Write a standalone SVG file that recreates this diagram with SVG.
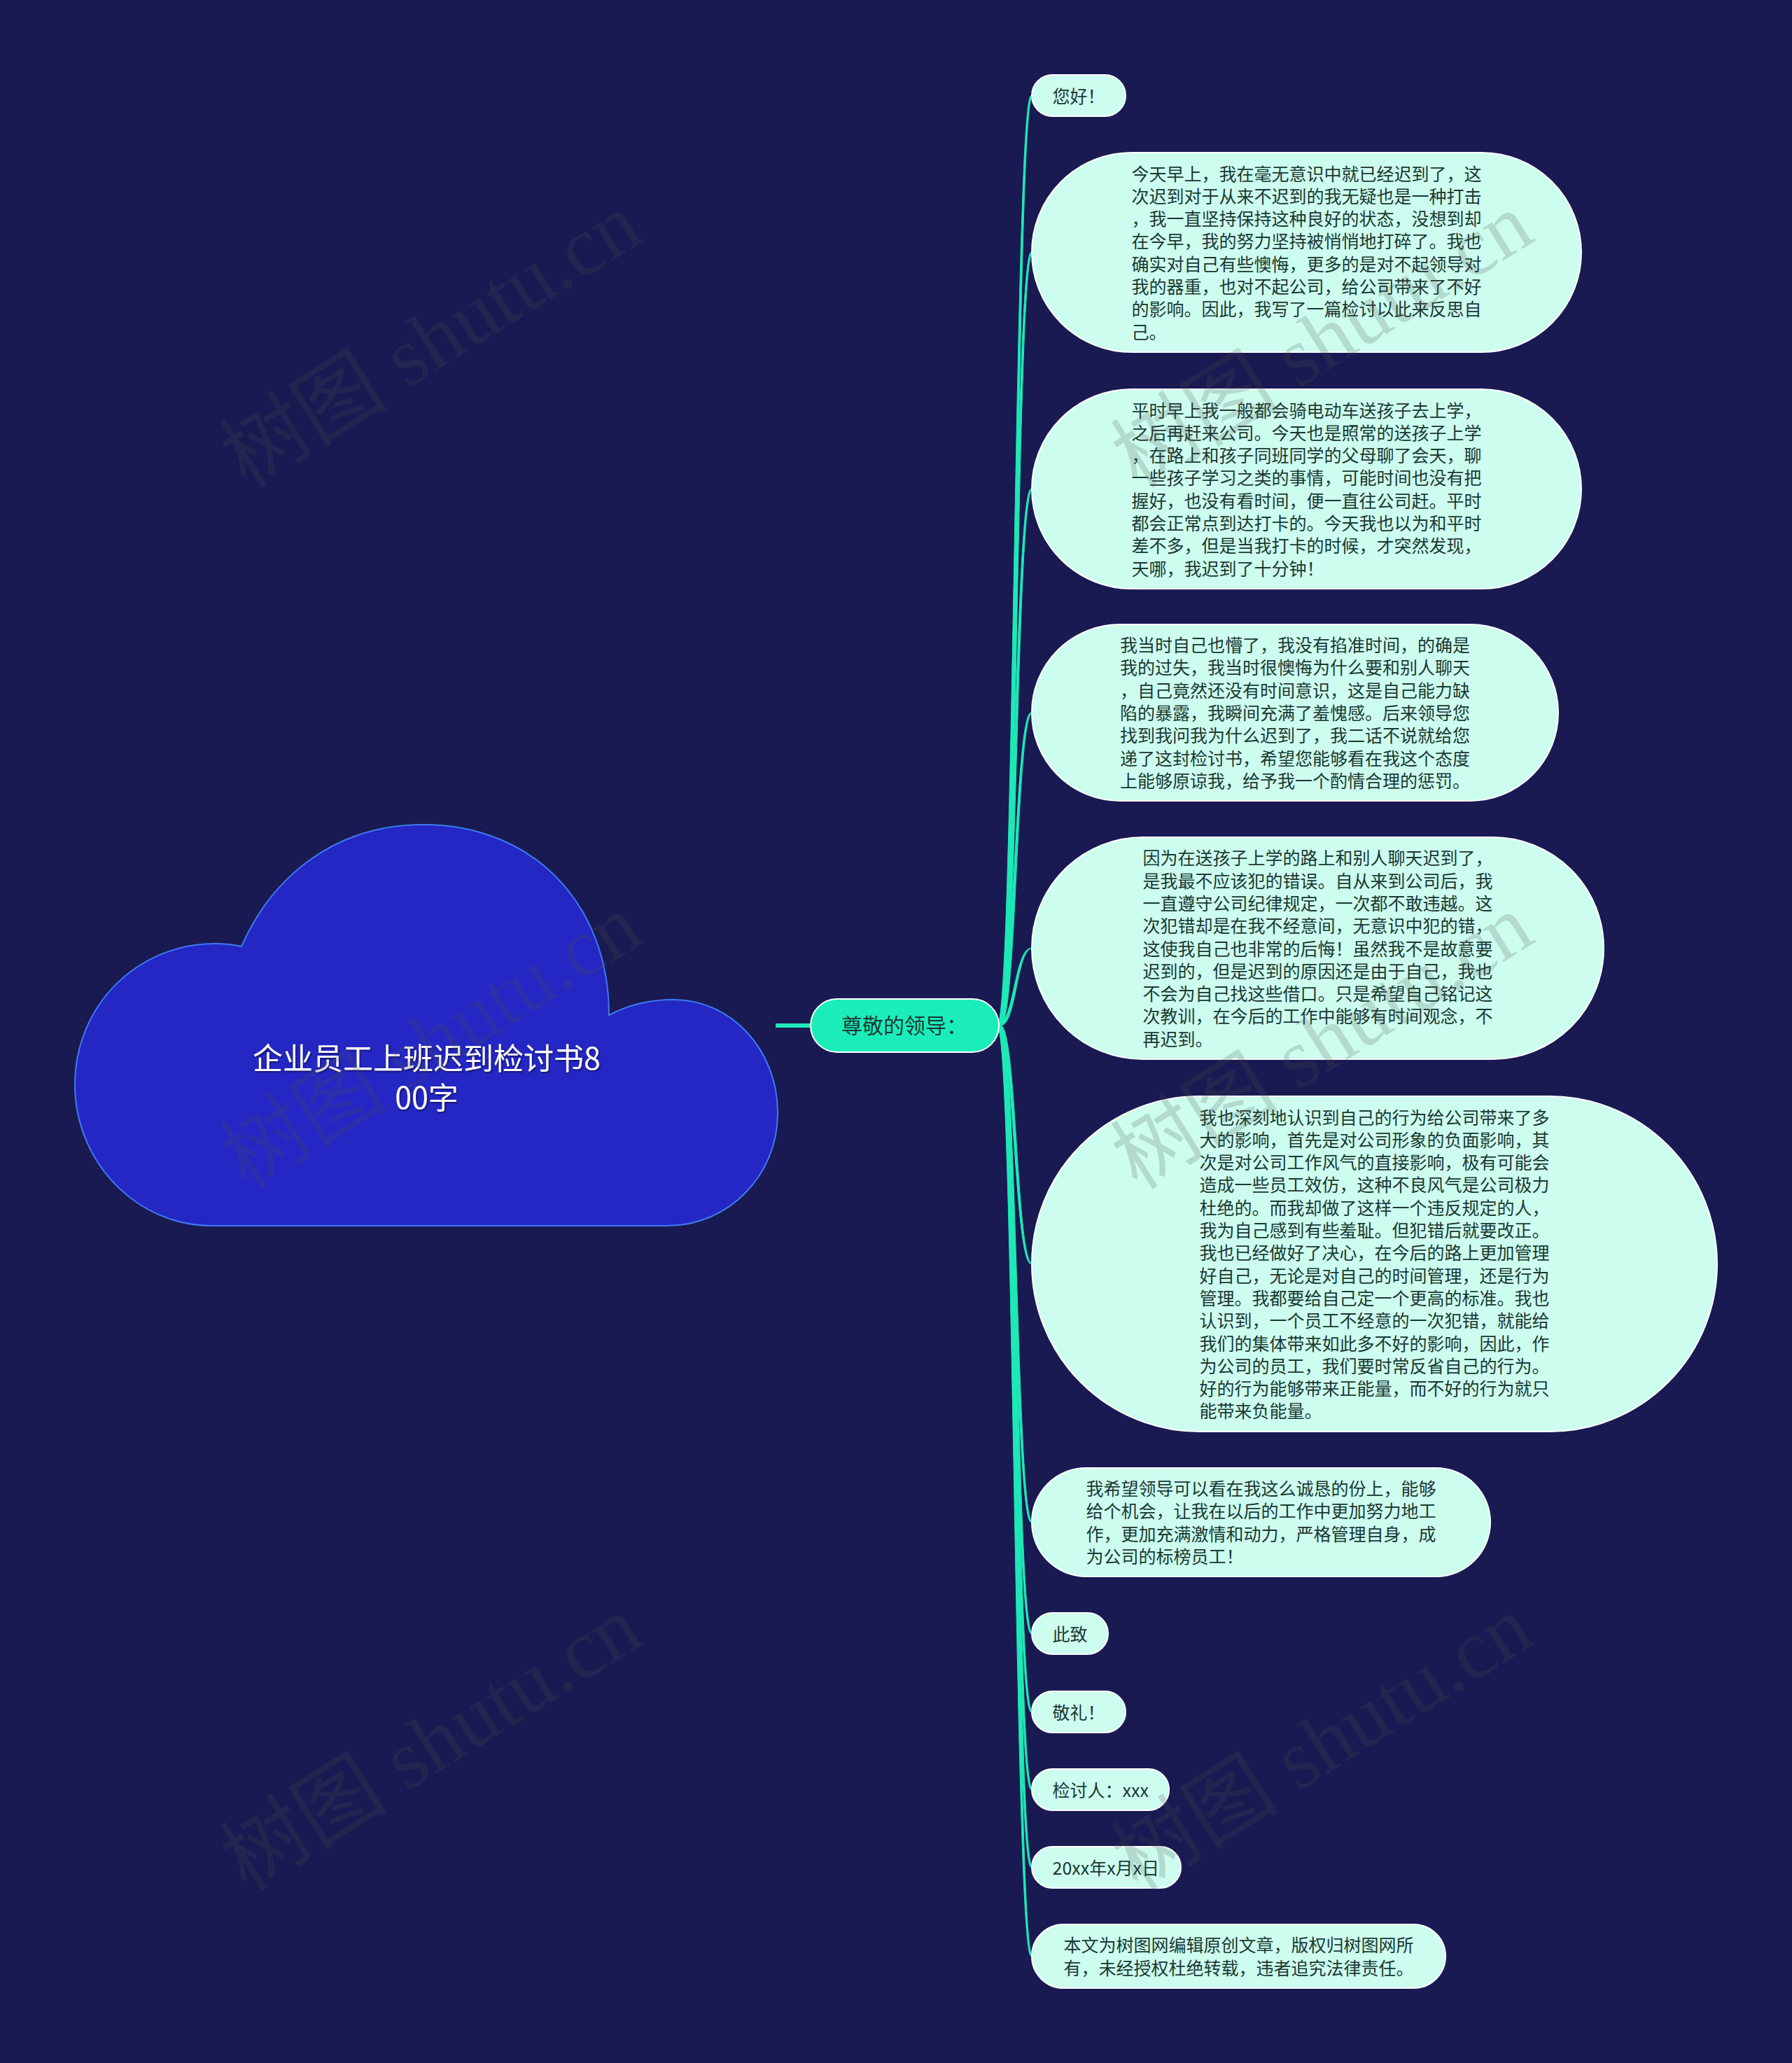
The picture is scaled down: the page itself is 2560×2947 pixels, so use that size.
<svg xmlns="http://www.w3.org/2000/svg" width="2560" height="2947" viewBox="0 0 2560 2947">
<defs>
<style>
.leaf{fill:#ccfdef;stroke:#ffffff;stroke-width:2}
.lt{font-family:"Noto Sans CJK SC","Noto Sans",sans-serif;font-size:25px;fill:#1b3832}
.con{fill:#1de9b6;stroke:#1de9b6;stroke-width:1;stroke-linejoin:round}
.wm{font-family:"Liberation Serif","Noto Sans CJK SC",serif;font-size:120px;fill:#505050;fill-opacity:0.2}
</style>
<filter id="sh" x="-10%" y="-20%" width="120%" height="140%">
<feDropShadow dx="1.5" dy="2" stdDeviation="1" flood-color="#000000" flood-opacity="0.45"/>
</filter>
</defs>
<rect x="0" y="0" width="2560" height="2947" fill="#191a52"/>

<g id="connectors">
<line x1="1108" y1="1465" x2="1162" y2="1465" stroke="#1de9b6" stroke-width="6"/>
<path class="con" d="M1424.5 1465 C1448.5 1465 1449 136.5 1473 136.5 L1475 136.5 C1452 136.5 1452.5 1465 1429.5 1465 Z"/>
<path class="con" d="M1424.5 1465 C1448.5 1465 1449 360.5 1473 360.5 L1475 360.5 C1452 360.5 1452.5 1465 1429.5 1465 Z"/>
<path class="con" d="M1424.5 1465 C1448.5 1465 1449 698.5 1473 698.5 L1475 698.5 C1452 698.5 1452.5 1465 1429.5 1465 Z"/>
<path class="con" d="M1424.5 1465 C1448.5 1465 1449 1018 1473 1018 L1475 1018 C1452 1018 1452.5 1465 1429.5 1465 Z"/>
<path class="con" d="M1424.5 1465 C1448.5 1465 1449 1354.5 1473 1354.5 L1475 1354.5 C1452 1354.5 1452.5 1465 1429.5 1465 Z"/>
<path class="con" d="M1424.5 1465 C1448.5 1465 1449 1805.5 1473 1805.5 L1475 1805.5 C1452 1805.5 1452.5 1465 1429.5 1465 Z"/>
<path class="con" d="M1424.5 1465 C1448.5 1465 1449 2174.5 1473 2174.5 L1475 2174.5 C1452 2174.5 1452.5 1465 1429.5 1465 Z"/>
<path class="con" d="M1424.5 1465 C1448.5 1465 1449 2333.5 1473 2333.5 L1475 2333.5 C1452 2333.5 1452.5 1465 1429.5 1465 Z"/>
<path class="con" d="M1424.5 1465 C1448.5 1465 1449 2445.5 1473 2445.5 L1475 2445.5 C1452 2445.5 1452.5 1465 1429.5 1465 Z"/>
<path class="con" d="M1424.5 1465 C1448.5 1465 1449 2556.5 1473 2556.5 L1475 2556.5 C1452 2556.5 1452.5 1465 1429.5 1465 Z"/>
<path class="con" d="M1424.5 1465 C1448.5 1465 1449 2667.5 1473 2667.5 L1475 2667.5 C1452 2667.5 1452.5 1465 1429.5 1465 Z"/>
<path class="con" d="M1424.5 1465 C1448.5 1465 1449 2794.5 1473 2794.5 L1475 2794.5 C1452 2794.5 1452.5 1465 1429.5 1465 Z"/>
</g>

<g id="root">
<path d="M303 1751 L953 1751 C1040 1751 1111 1680 1111 1590 C1111 1500 1045 1428 962 1428 C925 1428 893 1438 870 1450 C870 1290 760 1178 605 1178 C480 1178 390 1250 345 1352 C332 1349 320 1348 307 1348 C195 1348 107 1438 107 1549 C107 1660 195 1751 303 1751 Z" fill="#2427c4" stroke="#3d7bf0" stroke-width="2"/>
<text font-family="Noto Sans CJK SC, Noto Sans, sans-serif" font-size="43" fill="#ffffff" text-anchor="middle" filter="url(#sh)"><tspan x="609.5" y="1528">企业员工上班迟到检讨书8</tspan><tspan x="609.5" y="1584">00字</tspan></text>
</g>

<g id="center">
<rect x="1158" y="1427" width="269" height="76" rx="38" ry="38" fill="#1aedba" stroke="#ffffff" stroke-width="2"/>
<text x="1292" y="1476" font-family="Noto Sans CJK SC, Noto Sans, sans-serif" font-size="30" fill="#1b3832" text-anchor="middle">尊敬的领导：</text>
</g>

<g id="n1">
<rect class="leaf" x="1474" y="107" width="134" height="59" rx="29.5"/>
<text class="lt" x="1503.5" y="146.5">您好！</text>
</g>

<g id="n2">
<rect class="leaf" x="1474" y="218" width="785" height="285" rx="142.5"/>
<text class="lt"><tspan x="1616.5" y="257.5">今天早上，我在毫无意识中就已经迟到了，这</tspan><tspan x="1616.5" y="289.8">次迟到对于从来不迟到的我无疑也是一种打击</tspan><tspan x="1616.5" y="322.1">，我一直坚持保持这种良好的状态，没想到却</tspan><tspan x="1616.5" y="354.4">在今早，我的努力坚持被悄悄地打碎了。我也</tspan><tspan x="1616.5" y="386.7">确实对自己有些懊悔，更多的是对不起领导对</tspan><tspan x="1616.5" y="419">我的器重，也对不起公司，给公司带来了不好</tspan><tspan x="1616.5" y="451.3">的影响。因此，我写了一篇检讨以此来反思自</tspan><tspan x="1616.5" y="483.6">己。</tspan></text>
</g>

<g id="n3">
<rect class="leaf" x="1474" y="556" width="785" height="285" rx="142.5"/>
<text class="lt"><tspan x="1616.5" y="595.5">平时早上我一般都会骑电动车送孩子去上学，</tspan><tspan x="1616.5" y="627.8">之后再赶来公司。今天也是照常的送孩子上学</tspan><tspan x="1616.5" y="660.1">，在路上和孩子同班同学的父母聊了会天，聊</tspan><tspan x="1616.5" y="692.4">一些孩子学习之类的事情，可能时间也没有把</tspan><tspan x="1616.5" y="724.7">握好，也没有看时间，便一直往公司赶。平时</tspan><tspan x="1616.5" y="757">都会正常点到达打卡的。今天我也以为和平时</tspan><tspan x="1616.5" y="789.3">差不多，但是当我打卡的时候，才突然发现，</tspan><tspan x="1616.5" y="821.6">天哪，我迟到了十分钟！</tspan></text>
</g>

<g id="n4">
<rect class="leaf" x="1474" y="892" width="752" height="252" rx="126"/>
<text class="lt"><tspan x="1600" y="931">我当时自己也懵了，我没有掐准时间，的确是</tspan><tspan x="1600" y="963.3">我的过失，我当时很懊悔为什么要和别人聊天</tspan><tspan x="1600" y="995.6">，自己竟然还没有时间意识，这是自己能力缺</tspan><tspan x="1600" y="1027.9">陷的暴露，我瞬间充满了羞愧感。后来领导您</tspan><tspan x="1600" y="1060.2">找到我问我为什么迟到了，我二话不说就给您</tspan><tspan x="1600" y="1092.5">递了这封检讨书，希望您能够看在我这个态度</tspan><tspan x="1600" y="1124.8">上能够原谅我，给予我一个酌情合理的惩罚。</tspan></text>
</g>

<g id="n5">
<rect class="leaf" x="1474" y="1196" width="817" height="317" rx="158.5"/>
<text class="lt"><tspan x="1632.5" y="1235.3">因为在送孩子上学的路上和别人聊天迟到了，</tspan><tspan x="1632.5" y="1267.6">是我最不应该犯的错误。自从来到公司后，我</tspan><tspan x="1632.5" y="1299.9">一直遵守公司纪律规定，一次都不敢违越。这</tspan><tspan x="1632.5" y="1332.2">次犯错却是在我不经意间，无意识中犯的错，</tspan><tspan x="1632.5" y="1364.5">这使我自己也非常的后悔！虽然我不是故意要</tspan><tspan x="1632.5" y="1396.8">迟到的，但是迟到的原因还是由于自己，我也</tspan><tspan x="1632.5" y="1429.1">不会为自己找这些借口。只是希望自己铭记这</tspan><tspan x="1632.5" y="1461.4">次教训，在今后的工作中能够有时间观念，不</tspan><tspan x="1632.5" y="1493.7">再迟到。</tspan></text>
</g>

<g id="n6">
<rect class="leaf" x="1474" y="1566" width="979" height="479" rx="239.5"/>
<text class="lt"><tspan x="1713.5" y="1605.5">我也深刻地认识到自己的行为给公司带来了多</tspan><tspan x="1713.5" y="1637.8">大的影响，首先是对公司形象的负面影响，其</tspan><tspan x="1713.5" y="1670.1">次是对公司工作风气的直接影响，极有可能会</tspan><tspan x="1713.5" y="1702.4">造成一些员工效仿，这种不良风气是公司极力</tspan><tspan x="1713.5" y="1734.7">杜绝的。而我却做了这样一个违反规定的人，</tspan><tspan x="1713.5" y="1767">我为自己感到有些羞耻。但犯错后就要改正。</tspan><tspan x="1713.5" y="1799.3">我也已经做好了决心，在今后的路上更加管理</tspan><tspan x="1713.5" y="1831.6">好自己，无论是对自己的时间管理，还是行为</tspan><tspan x="1713.5" y="1863.9">管理。我都要给自己定一个更高的标准。我也</tspan><tspan x="1713.5" y="1896.2">认识到，一个员工不经意的一次犯错，就能给</tspan><tspan x="1713.5" y="1928.5">我们的集体带来如此多不好的影响，因此，作</tspan><tspan x="1713.5" y="1960.8">为公司的员工，我们要时常反省自己的行为。</tspan><tspan x="1713.5" y="1993.1">好的行为能够带来正能量，而不好的行为就只</tspan><tspan x="1713.5" y="2025.4">能带来负能量。</tspan></text>
</g>

<g id="n7">
<rect class="leaf" x="1474" y="2097" width="655" height="155" rx="77.5"/>
<text class="lt"><tspan x="1551.5" y="2136">我希望领导可以看在我这么诚恳的份上，能够</tspan><tspan x="1551.5" y="2168.3">给个机会，让我在以后的工作中更加努力地工</tspan><tspan x="1551.5" y="2200.6">作，更加充满激情和动力，严格管理自身，成</tspan><tspan x="1551.5" y="2232.9">为公司的标榜员工！</tspan></text>
</g>

<g id="n8">
<rect class="leaf" x="1474" y="2304" width="109" height="59" rx="29.5"/>
<text class="lt" x="1503.5" y="2343.5">此致</text>
</g>

<g id="n9">
<rect class="leaf" x="1474" y="2416" width="134" height="59" rx="29.5"/>
<text class="lt" x="1503.5" y="2455.5">敬礼！</text>
</g>

<g id="n10">
<rect class="leaf" x="1474" y="2527" width="196" height="59" rx="29.5"/>
<text class="lt" x="1503.5" y="2566.5">检讨人：xxx</text>
</g>

<g id="n11">
<rect class="leaf" x="1474" y="2638" width="213" height="59" rx="29.5"/>
<text class="lt" x="1503.5" y="2677.5">20xx年x月x日</text>
</g>

<g id="n12">
<rect class="leaf" x="1474" y="2749" width="591" height="91" rx="45.5"/>
<text class="lt"><tspan x="1519.5" y="2788.4">本文为树图网编辑原创文章，版权归树图网所</tspan><tspan x="1519.5" y="2820.7">有，未经授权杜绝转载，违者追究法律责任。</tspan></text>
</g>

<g id="watermarks">
<text class="wm" transform="translate(352 699) rotate(-32)">树图 shutu.cn</text>
<text class="wm" transform="translate(1625 699) rotate(-32)">树图 shutu.cn</text>
<text class="wm" transform="translate(352 1701) rotate(-32)">树图 shutu.cn</text>
<text class="wm" transform="translate(1625 1701) rotate(-32)">树图 shutu.cn</text>
<text class="wm" transform="translate(352 2703) rotate(-32)">树图 shutu.cn</text>
<text class="wm" transform="translate(1625 2703) rotate(-32)">树图 shutu.cn</text>
</g>
</svg>
